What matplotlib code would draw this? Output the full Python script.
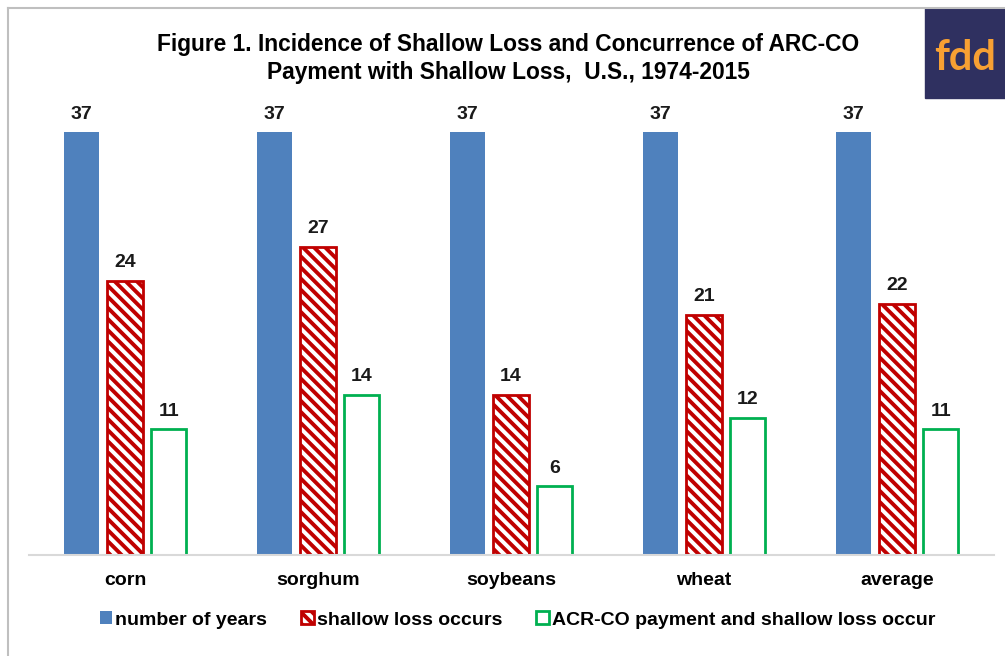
import numpy as np
import matplotlib; matplotlib.use("Agg"); import matplotlib.pyplot as plt
from matplotlib.patches import Rectangle

crops = ["corn", "sorghum", "soybeans", "wheat", "average"]
years = [37, 37, 37, 37, 37]
shallow = [24, 27, 14, 21, 22]
arc_co = [11, 14, 6, 12, 11]
series_names = ["number of years", "shallow loss occurs", "ACR-CO payment and shallow loss occur"]

plt.rcParams["font.family"] = ["Liberation Sans", "DejaVu Sans"]
plt.rcParams["hatch.linewidth"] = 2.8

fig = plt.figure(figsize=(10.05, 6.56), dpi=100)
ax = fig.add_axes([28.5/1005, 101/656, 965/1005, (555-98)/656])

x = np.arange(len(crops))
w, off = 0.183, 0.227
b1 = ax.bar(x - off, years, w, color="#4F81BD", label=series_names[0])
b2 = ax.bar(x, shallow, w, facecolor="white", edgecolor="#C00000", hatch="\\\\\\", lw=2, label=series_names[1])
b3 = ax.bar(x + off, arc_co, w, facecolor="white", edgecolor="#00B050", lw=2, label=series_names[2])
for bars in (b1, b2, b3):
    ax.bar_label(bars, padding=7, fontsize=14, fontweight="bold", color="#1a1a1a")

ax.set_xlim(-0.5, 4.5); ax.set_ylim(0, 40)
ax.set_yticks([])
ax.set_xticks(x, crops, fontsize=14, fontweight="bold")
ax.tick_params(axis="x", length=0, pad=12)
for s in ("top", "right", "left"): ax.spines[s].set_visible(False)
ax.spines["bottom"].set_color("#D9D9D9"); ax.spines["bottom"].set_linewidth(1.5)

fig.text(0.506, 1 - 58.5/656, "Figure 1. Incidence of Shallow Loss and Concurrence of ARC-CO\nPayment with Shallow Loss,  U.S., 1974-2015",
         ha="center", va="center", fontsize=16.4, fontweight="bold", linespacing=1.27)

fig.legend(handles=[b1, b2, b3], loc="center", bbox_to_anchor=(517.5/1005, 1 - 620/656), ncol=3, frameon=False,
           prop={"size": 14, "weight": "bold"}, handlelength=0.65, handleheight=0.65, handletextpad=0.15,
           columnspacing=1.75, borderaxespad=0)

# chart border and logo
fig.add_artist(plt.Line2D([8/1005, 8/1005], [0, 648/656], color="#BFBFBF", lw=1.5, transform=fig.transFigure))
fig.add_artist(plt.Line2D([8/1005, 1], [648/656, 648/656], color="#BFBFBF", lw=1.5, transform=fig.transFigure))
fig.add_artist(Rectangle((925/1005, 558/656), 80/1005, 90/656, transform=fig.transFigure, color="#2F3060"))
fig.text(965/1005, 598/656, "fdd", ha="center", va="center", fontsize=30, fontweight="bold", color="#F7A033",
         family=["Lato", "DejaVu Sans"])

fig.savefig("out.png", dpi=100)
